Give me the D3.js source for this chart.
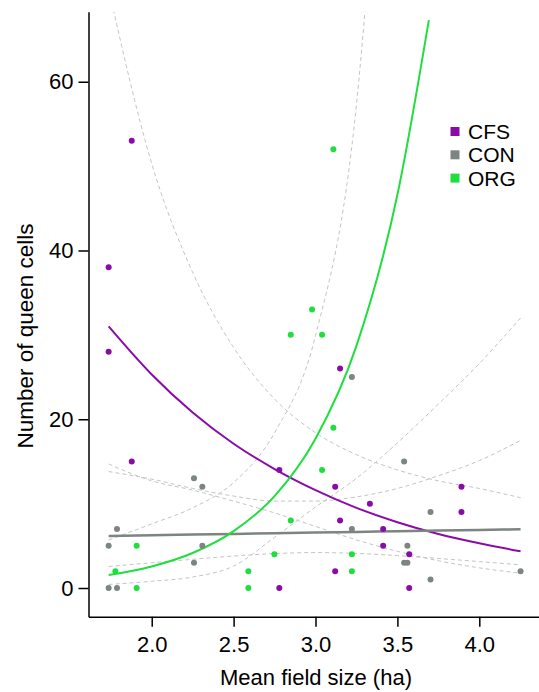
<!DOCTYPE html>
<html>
<head>
<meta charset="utf-8">
<script src="https://cdn.jsdelivr.net/npm/d3@7"></script>
<style>
  body { margin: 0; background: #fff; }
  svg { font-family: "Liberation Sans", Arial, sans-serif; }
</style>
</head>
<body>
<div id="chart"></div>
<script>
// points: [field size, queen cells]
var cfsPts = [[1.878,53],[1.737,38],[1.737,28],[1.878,15],[2.779,14],[2.779,0],[3.150,26],[3.120,12],
  [3.891,12],[3.332,10],[3.891,9],[3.150,8],[3.413,7],[3.413,5],[3.572,4],[3.120,2],[3.572,0]];
var conPts = [[2.258,13],[2.309,12],[1.788,7],[1.737,5],[2.309,5],[2.258,3],[1.737,0],[1.788,0],
  [3.222,25],[3.541,15],[3.702,9],[3.222,7],[3.561,5],[3.541,3],[3.561,3],[4.252,2],[3.702,1]];
var orgPts = [[2.849,30],[2.849,8],[1.908,5],[2.749,4],[1.778,2],[2.590,2],[1.908,0],[2.590,0],
  [3.109,52],[2.979,33],[3.040,30],[3.109,19],[3.040,14],[3.222,4],[3.222,2]];

// fitted curves and their confidence bands, read at these x positions
var xGrid = [1.737, 2.0, 2.25, 2.5, 2.75, 3.0, 3.25, 3.5, 3.75, 4.0, 4.252];
var cfsFit   = [31.0, 25.3, 20.8, 17.1, 14.1, 11.6, 9.5, 7.8, 6.4, 5.3, 4.35];
var cfsUpper = [71, 50.3, 37.4, 28.5, 22.4, 18.4, 15.8, 14.0, 12.7, 11.8, 10.7];
var cfsLower = [14.7, 12.7, 11.6, 10.3, 8.9, 7.3, 5.7, 4.35, 3.23, 2.39, 1.75];
var conFit   = [6.17, 6.25, 6.33, 6.41, 6.49, 6.57, 6.65, 6.73, 6.81, 6.88, 6.96];
var conUpper = [13.8, 12.9, 11.8, 10.9, 10.3, 10.3, 10.8, 11.8, 13.3, 15.1, 17.5];
var conLower = [2.55, 2.99, 3.40, 3.79, 4.08, 4.20, 4.10, 3.84, 3.50, 3.13, 2.75];
var orgX     = [1.737, 2.0, 2.25, 2.5, 2.75, 3.0, 3.25, 3.5, 3.692];
var orgFit   = [1.54, 2.56, 4.15, 6.74, 10.9, 17.7, 28.7, 46.6, 67.3];
var orgUpper = [5.7, 7.6, 9.5, 12.5, 18.4, 29.9, 57.3, 125, null, null, null];
var orgLower = [0.42, 0.8, 1.3, 2.6, 6.0, 9.6, 13.0, 17.2, 21.8, 26.6, 32.0];

var groups = ["CFS", "CON", "ORG"];
var colors = {CFS: "#8a0ca8", CON: "#7c8580", ORG: "#1fdf3f"};

var xTicks = [2.0, 2.5, 3.0, 3.5, 4.0];
var yTicks = [0, 20, 40, 60];

var width = 539, height = 692;
var pLeft = 88.5, pRight = 539, pTop = 11.7, pBottom = 616.7;

var svg = d3.select("#chart").append("svg")
    .attr("width", width).attr("height", height);

var x = d3.scaleLinear().domain([1.614, 4.3645]).range([pLeft, pRight]);
var y = d3.scaleLinear().domain([-3.40, 68.3]).range([pBottom, pTop]);

svg.append("clipPath").attr("id", "panel")
  .append("rect").attr("x", pLeft).attr("y", pTop)
  .attr("width", pRight - pLeft).attr("height", pBottom - pTop);

var plot = svg.append("g").attr("clip-path", "url(#panel)");

function pairs(xs, ys) {
  return xs.map(function(v, i) { return [v, ys[i]]; });
}

var line = d3.line()
    .defined(function(d) { return d[1] != null; })
    .x(function(d) { return x(d[0]); })
    .y(function(d) { return y(d[1]); })
    .curve(d3.curveMonotoneX);

// dashed confidence bands
[cfsUpper, cfsLower, conUpper, conLower, orgUpper, orgLower].forEach(function(band) {
  plot.append("path")
    .attr("d", line(pairs(xGrid, band)))
    .attr("fill", "none")
    .attr("stroke", "#c4c4c4")
    .attr("stroke-width", 1)
    .attr("stroke-dasharray", "4,3");
});

// fitted lines
plot.append("path").attr("d", line(pairs(xGrid, cfsFit)))
  .attr("fill", "none").attr("stroke", colors.CFS).attr("stroke-width", 2);
plot.append("path").attr("d", line(pairs(xGrid, conFit)))
  .attr("fill", "none").attr("stroke", colors.CON).attr("stroke-width", 2.5);
plot.append("path").attr("d", line(pairs(orgX, orgFit)))
  .attr("fill", "none").attr("stroke", colors.ORG).attr("stroke-width", 2);

// points
var allPts = [];
cfsPts.forEach(function(p) { allPts.push({g: "CFS", x: p[0], y: p[1]}); });
conPts.forEach(function(p) { allPts.push({g: "CON", x: p[0], y: p[1]}); });
orgPts.forEach(function(p) { allPts.push({g: "ORG", x: p[0], y: p[1]}); });

plot.append("g").selectAll("circle")
  .data(allPts)
  .enter().append("circle")
    .attr("cx", function(d) { return x(d.x); })
    .attr("cy", function(d) { return y(d.y); })
    .attr("r", 3)
    .attr("fill", function(d) { return colors[d.g]; });

// axes
var xAxis = svg.append("g")
    .attr("transform", "translate(0," + pBottom + ")")
    .call(d3.axisBottom(x).tickValues(xTicks).tickFormat(d3.format(".1f"))
      .tickSize(10).tickSizeOuter(0).tickPadding(10));
var yAxis = svg.append("g")
    .attr("transform", "translate(" + pLeft + ",0)")
    .call(d3.axisLeft(y).tickValues(yTicks).tickSize(10).tickSizeOuter(0).tickPadding(5));

[xAxis, yAxis].forEach(function(a) {
  a.selectAll("path, line").attr("stroke", "#000").attr("stroke-width", 1.5);
  a.selectAll("text").attr("font-size", 22).attr("fill", "#000")
    .attr("font-family", "Liberation Sans, Arial, sans-serif");
});

svg.append("text")
  .attr("x", 316).attr("y", 685)
  .attr("text-anchor", "middle")
  .attr("font-size", 22)
  .text("Mean field size (ha)");

svg.append("text")
  .attr("transform", "translate(33,336) rotate(-90)")
  .attr("text-anchor", "middle")
  .attr("font-size", 22.5)
  .text("Number of queen cells");

// legend
var legend = svg.append("g").selectAll("g")
  .data(groups)
  .enter().append("g")
    .attr("transform", function(d, i) { return "translate(455," + (131.5 + i * 23.3) + ")"; });

legend.append("rect")
  .attr("x", -4.5).attr("y", -4.5)
  .attr("width", 9).attr("height", 9)
  .attr("fill", function(d) { return colors[d]; });

legend.append("text")
  .attr("x", 13).attr("dy", "0.36em")
  .attr("font-size", 21)
  .text(function(d) { return d; });
</script>
</body>
</html>
